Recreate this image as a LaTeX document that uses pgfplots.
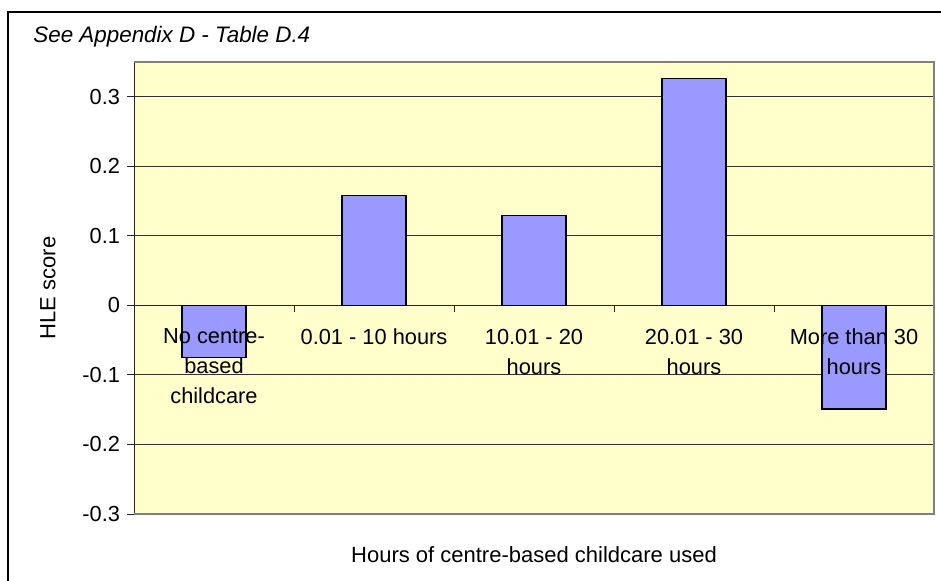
\documentclass[border=0pt]{standalone}
\usepackage{fontspec}
\setmainfont{Liberation Sans}
\usepackage{pgfplots}
\pgfplotsset{compat=1.18}
\definecolor{bgyellow}{HTML}{FFFFCC}
\definecolor{barblue}{HTML}{9999FF}
\definecolor{framegray}{HTML}{808080}
\begin{document}
\begin{tikzpicture}
\useasboundingbox (0,0) rectangle (470.5pt,290pt);
\draw[black, line width=0.6pt] (4pt,-2pt) -- (4pt,284pt) -- (475pt,284pt);
\node[anchor=west, inner sep=0pt, font=\fontsize{11.2}{13}\selectfont\itshape] at (16.5pt,271.5pt) {See Appendix D - Table D.4};
\begin{axis}[
  at={(67pt,33pt)}, anchor=south west,
  scale only axis, width=400pt, height=226pt,
  axis x line=middle, axis y line=left,
  axis line style={-, line width=0.5pt, black!85},
  xmin=0.5, xmax=5.5, ymin=-0.3, ymax=0.35,
  enlargelimits=false,
  axis background/.style={fill=bgyellow},
  ytick={-0.3,-0.2,-0.1,0,0.1,0.2,0.3},
  yticklabels={-0.3,-0.2,-0.1,0,0.1,0.2,0.3},
  ymajorgrids, grid style={black!80, line width=0.45pt},
  tick align=outside, major tick length=3.5pt,
  tick style={black!85, line width=0.5pt},
  xtick={1.5,2.5,3.5,4.5}, xticklabels={},
  y tick label style={font=\fontsize{10.9}{13}\selectfont},
  every axis y label/.style={at={(axis description cs:-0.1075,0.5)}, rotate=90, anchor=center},
  every axis x label/.style={at={(axis description cs:0.5,-0.0907)}, anchor=center},
  label style={font=\fontsize{11}{13}\selectfont},
  xlabel={Hours of centre-based childcare used},
  ylabel={HLE score},
  clip=false,
]
\addplot[ybar, bar width=0.4, fill=barblue, draw=black, line width=0.65pt] coordinates {
  (1,-0.075) (2,0.158) (3,0.129) (4,0.326) (5,-0.149)
};
\addplot[draw=none, mark=none, point meta=explicit symbolic,
  nodes near coords,
  nodes near coords style={anchor=north, align=center, font=\fontsize{10.9}{15}\selectfont, yshift=-11.5pt, inner sep=0pt, text=black}]
  coordinates {
  (1,0) [No centre-\\based\\childcare]
  (2,0) [0.01 - 10 hours]
  (3,0) [10.01 - 20\\hours]
  (4,0) [20.01 - 30\\hours]
  (5,0) [More than 30\\hours]
};
\draw[framegray, line width=0.75pt] (rel axis cs:0,0) -- (rel axis cs:1,0) -- (rel axis cs:1,1) -- (rel axis cs:0,1);
\end{axis}
\end{tikzpicture}
\end{document}
